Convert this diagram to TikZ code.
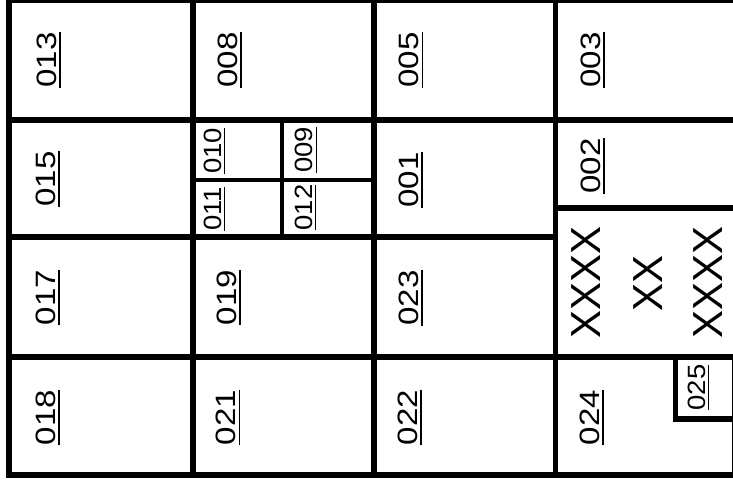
\documentclass[tikz,border=0pt]{standalone}
\usepackage{fontspec}
\setmainfont{Liberation Sans}
\usepackage{graphicx}
\newcommand{\ulab}[1]{\setbox0\hbox{#1}\leavevmode\rlap{\rule[-0.165em]{\wd0}{0.045em}}\box0}
\tikzset{
  wall/.style={line width=5.5pt},
  outerwall/.style={line width=6pt},
  subwall/.style={line width=4pt},
  biglab/.style={font=\fontsize{28}{28}\selectfont, rotate=90, anchor=base, inner sep=0pt},
  smalllab/.style={font=\fontsize{25}{25}\selectfont, rotate=90, anchor=base, inner sep=0pt},
  xlab/.style={font=\fontsize{42}{42}\selectfont, rotate=90, anchor=base, inner sep=0pt}
}
\newcommand{\biglabtext}[1]{\scalebox{1.18}[1]{\ulab{#1}}}
\newcommand{\smalllabtext}[1]{\scalebox{1.1}[1]{\ulab{#1}}}
\begin{document}
\begin{tikzpicture}[x=1pt,y=-1pt]
\useasboundingbox (0,0) rectangle (733,480);
\clip (0,0) rectangle (733,480);
\fill[white] (0,0) rectangle (733,480);
% outer frame
\draw[outerwall] (8.5,0) rectangle (737,474.5);
\draw[line width=1pt] (732.6,357) -- (732.6,475);
% columns
\draw[wall] (193,0) -- (193,474.5);
\draw[wall] (374,0) -- (374,474.5);
\draw[wall] (555.5,0) -- (555.5,474.5);
% rows
\draw[wall] (8.5,120) -- (737,120);
\draw[wall] (8.5,237) -- (555.5,237);
\draw[wall] (555.5,208) -- (737,208);
\draw[wall] (8.5,357) -- (737,357);
% sub-division of cell 010/009/011/012
\draw[subwall] (282,120) -- (282,237);
\draw[subwall] (193,180) -- (374,180);
% box 025
\draw[wall] (675.5,357) |- (737,419);
% labels
\node[biglab] (l013) at (56,60) {\biglabtext{013}};
\node[biglab] (l008) at (237,60) {\biglabtext{008}};
\node[biglab] (l005) at (418.6,60) {\biglabtext{005}};
\node[biglab] (l003) at (600,60) {\biglabtext{003}};
\node[biglab] (l015) at (55,179) {\biglabtext{015}};
\node[biglab] (l001) at (418,180) {\biglabtext{001}};
\node[biglab] (l002) at (600,166) {\biglabtext{002}};
\node[biglab] (l017) at (55,297.5) {\biglabtext{017}};
\node[biglab] (l019) at (236,297.5) {\biglabtext{019}};
\node[biglab] (l023) at (418,298) {\biglabtext{023}};
\node[biglab] (l018) at (55,417.5) {\biglabtext{018}};
\node[biglab] (l021) at (235.5,417.5) {\biglabtext{021}};
\node[biglab] (l022) at (417,417.5) {\biglabtext{022}};
\node[biglab] (l024) at (599,417.5) {\biglabtext{024}};
\node[smalllab] (l010) at (221,151) {\smalllabtext{010}};
\node[smalllab] (l011) at (221,209) {\smalllabtext{011}};
\node[smalllab] (l009) at (312.5,150) {\smalllabtext{009}};
\node[smalllab] (l012) at (312,207.5) {\smalllabtext{012}};
\node[smalllab] (l025) at (705,387.5) {\smalllabtext{025}};
\node[xlab] (x1) at (600,282.5) {XXXX};
\node[xlab] (x2) at (662,283.5) {XX};
\node[xlab] (x3) at (722,282.5) {XXXX};
\end{tikzpicture}
\end{document}
